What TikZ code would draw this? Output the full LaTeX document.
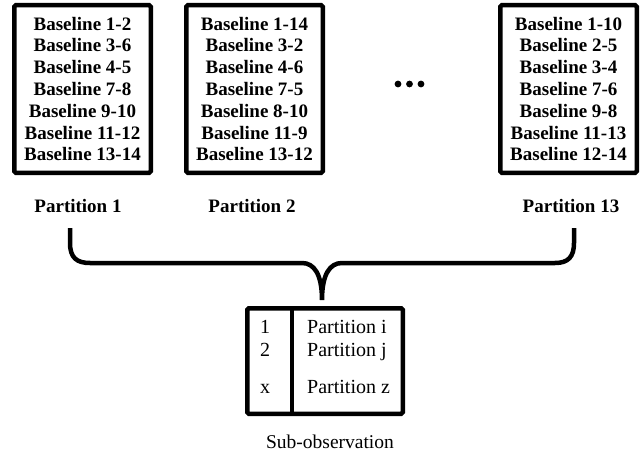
\documentclass[tikz,border=0pt]{standalone}
\usepackage{fontspec}
\setmainfont{Liberation Serif}
\usetikzlibrary{positioning}
\tikzset{
  partbox/.style={draw, line width=4.5pt, rounded corners=1.5pt, inner sep=0pt,
    minimum width=136.5pt, minimum height=167.5pt, align=center,
    font=\bfseries\fontsize{19}{21.8}\selectfont},
  partlabel/.style={anchor=base, inner sep=0pt, font=\bfseries\fontsize{19}{22}\selectfont},
  rowtext/.style={inner sep=0pt, font=\fontsize{20}{22}\selectfont},
  brace/.style={line width=4.5pt}
}
\begin{document}
\begin{tikzpicture}[x=1pt,y=-1pt]
  \useasboundingbox (0,0) rectangle (643,460);

  % partitions
  \node[partbox] (p1) at (82.5,89) {Baseline 1-2\\Baseline 3-6\\Baseline 4-5\\Baseline 7-8\\Baseline 9-10\\Baseline 11-12\\Baseline 13-14};
  \node[partbox] (p2) at (254.5,89) {Baseline 1-14\\Baseline 3-2\\Baseline 4-6\\Baseline 7-5\\Baseline 8-10\\Baseline 11-9\\Baseline 13-12};
  \node[partbox] (p13) at (568.5,89) {Baseline 1-10\\Baseline 2-5\\Baseline 3-4\\Baseline 7-6\\Baseline 9-8\\Baseline 11-13\\Baseline 12-14};
  \foreach \x in {398,409.5,421}
    \fill (\x,84) circle (3.4pt);

  \node[partlabel] (lab1) at (78,212) {Partition 1};
  \node[partlabel] (lab2) at (252,212) {Partition 2};
  \node[partlabel] (lab13) at (571,212) {Partition 13};

  % brace
  \coordinate (bl) at (70,228);
  \coordinate (br) at (574,228);
  \coordinate (tip) at (322,300);
  \draw[brace] (bl) -- ++(0,15) .. controls (70,258) and (77,263) .. (90,263)
    -- (302,263) .. controls (314,263) and (322,274) .. (tip)
    .. controls (322,274) and (330,263) .. (342,263)
    -- (555,263) .. controls (568,263) and (574,257) .. (574,243) -- (br);

  % sub-observation
  \node[draw, line width=4.5pt, rounded corners=1.5pt, minimum width=155.5pt, minimum height=105.5pt] (sub) at (325,361) {};
  \coordinate (div) at (292,361);
  \draw[line width=4pt] (sub.north -| div) -- (sub.south -| div);
  \foreach \n/\p/\y in {1/i/333, 2/j/356, x/z/393} {
    \node[rowtext, anchor=base] (num-\n) at (265,\y) {\n};
    \node[rowtext, anchor=base west] (row-\n) at (307,\y) {Partition \p};
  }
  \node[rowtext, anchor=base, font=\fontsize{19.5}{22}\selectfont] (subl) at (330,448) {Sub-observation};
\end{tikzpicture}
\end{document}
